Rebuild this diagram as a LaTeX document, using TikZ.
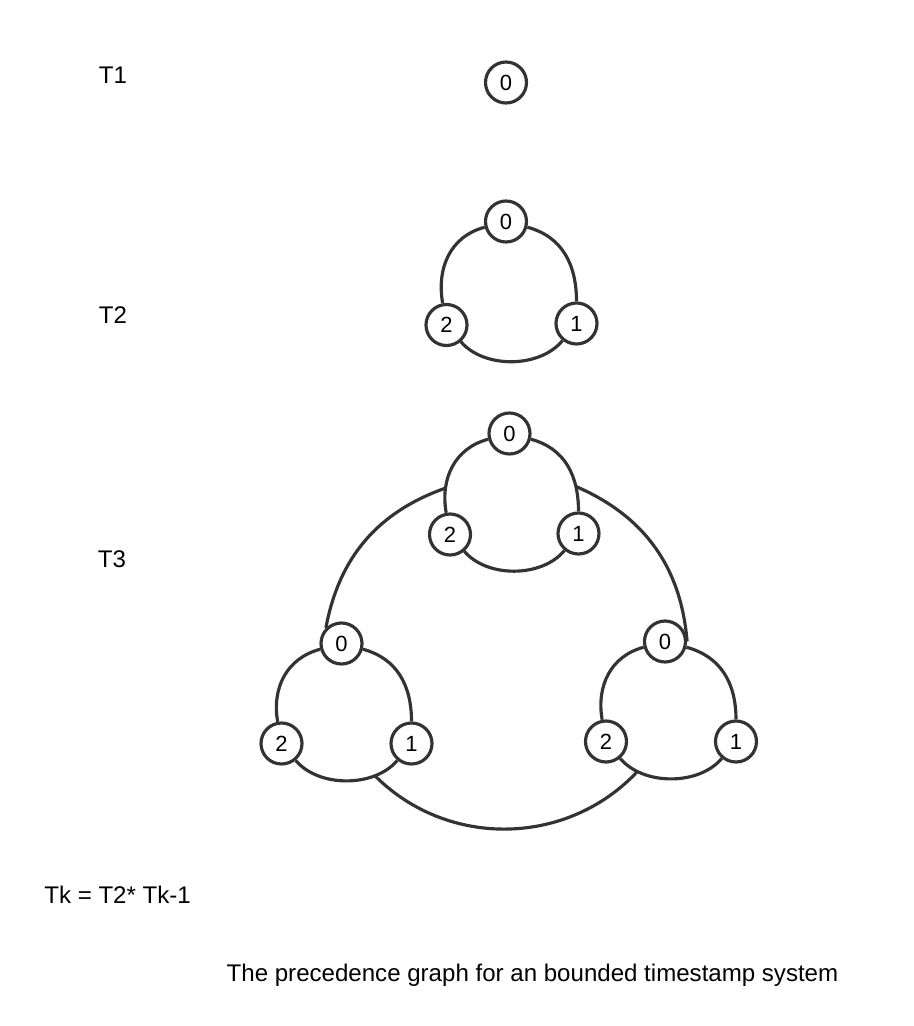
\documentclass[tikz,border=0pt]{standalone}
\usepackage{fontspec}
\setmainfont{Liberation Sans}

\tikzset{
  stamp/.style={draw=black!80, circle, line width=1.8pt, fill=white,
    minimum size=0.82cm, inner sep=0pt, font=\fontsize{12.5}{14}\selectfont},
  edge/.style={draw=black!80, line width=1.8pt},
  lbl/.style={font=\fontsize{13.7}{16}\selectfont},
  rside/.style={out=-15,in=90,looseness=1.05},
  lside/.style={out=100,in=195,looseness=1.05},
  base/.style={bend left=50,looseness=.9},
}

\begin{document}
\begin{tikzpicture}
            \useasboundingbox (0,0) rectangle (18.28,-20.52);
            % T1
            \node[lbl] (l1) at (2.26,-1.5) {T1};
            \node[stamp] (s0) at (10.12,-1.65) {0};
            % T2
            \node[lbl] (l2) at (2.26,-6.3) {T2};
            \node[stamp] (a0) at (10.12,-4.43) {0};
            \node[stamp] (a1) at (11.53,-6.47) {1};
            \node[stamp] (a2) at (8.93,-6.50) {2};
            \draw[edge] (a0) to[rside] (a1);
            \draw[edge] (a1) to[base] (a2);
            \draw[edge] (a2) to[lside] (a0);
            % T3
            \node[lbl] (l3) at (2.24,-11.19) {T3};
            \node[stamp] (b0) at (10.19,-8.67) {0};
            \node[stamp] (b1) at (11.57,-10.67) {1};
            \node[stamp] (b2) at (9.00,-10.69) {2};
            \node[stamp] (c0) at (6.83,-12.87) {0};
            \node[stamp] (c1) at (8.23,-14.87) {1};
            \node[stamp] (c2) at (5.63,-14.87) {2};
            \node[stamp] (d0) at (13.30,-12.83) {0};
            \node[stamp] (d1) at (14.72,-14.83) {1};
            \node[stamp] (d2) at (12.12,-14.83) {2};
            \draw[edge] (b0) to[rside] node[shape=coordinate,pos=.75] (jr) {} (b1);
            \draw[edge] (b1) to[base] (b2);
            \draw[edge] (b2) to[lside] node[shape=coordinate,pos=.25] (jl) {} (b0);
            \draw[edge] (c0) to[rside] (c1);
            \draw[edge] (c1) to[base] node[shape=coordinate,pos=.25] (bl) {} (c2);
            \draw[edge] (c2) to[lside] (c0);
            \draw[edge] (d0) to[rside] (d1);
            \draw[edge] (d1) to[base] node[shape=coordinate,pos=.8] (br) {} (d2);
            \draw[edge] (d2) to[lside] (d0);
            \draw[edge] (jl) to[bend right=30] (c0.135);
            \draw[edge] (jr) to[bend left=31] (d0.east);
            \draw[edge] (bl) to[bend right=46] (br);
            % rule and caption
            \node[lbl, anchor=west, inner sep=0pt] (rule) at (0.88,-17.9) {Tk = T2* Tk-1};
            \node[lbl] (cap) at (10.65,-19.5) {The precedence graph for an bounded timestamp system};
        \end{tikzpicture}
\end{document}
